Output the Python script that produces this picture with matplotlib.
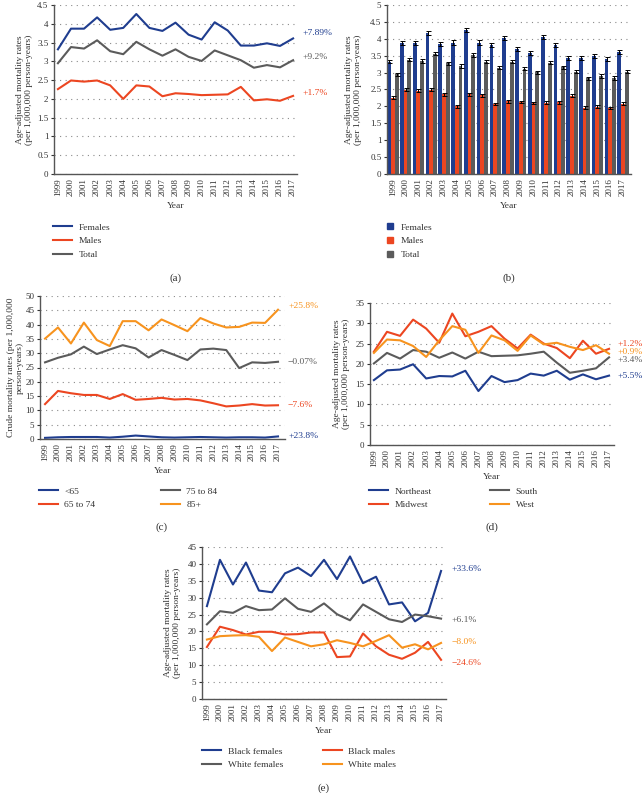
import numpy as np
import matplotlib
matplotlib.use("Agg")
import matplotlib.pyplot as plt
from matplotlib.lines import Line2D

plt.rcParams['font.family'] = ['Liberation Serif', 'DejaVu Serif']
plt.rcParams['font.size'] = 6.5

years = list(range(1999, 2018))

# (a)/(b) sex
females = [3.32, 3.87, 3.87, 4.17, 3.84, 3.89, 4.26, 3.89, 3.81, 4.03, 3.71, 3.58, 4.04, 3.82, 3.42, 3.42, 3.48, 3.41, 3.61]
males = [2.26, 2.49, 2.46, 2.49, 2.36, 2.00, 2.36, 2.33, 2.07, 2.15, 2.13, 2.10, 2.11, 2.12, 2.32, 1.96, 1.99, 1.95, 2.08]
total = [2.95, 3.38, 3.34, 3.56, 3.27, 3.19, 3.52, 3.32, 3.15, 3.32, 3.12, 3.01, 3.29, 3.16, 3.03, 2.83, 2.90, 2.84, 3.03]
females_err = [0.05, 0.06, 0.06, 0.06, 0.06, 0.06, 0.06, 0.06, 0.06, 0.06, 0.06, 0.06, 0.06, 0.06, 0.06, 0.06, 0.06, 0.06, 0.06]
males_err = [0.04, 0.04, 0.04, 0.04, 0.04, 0.04, 0.04, 0.04, 0.04, 0.04, 0.04, 0.04, 0.04, 0.04, 0.04, 0.04, 0.04, 0.04, 0.04]
total_err = [0.05, 0.05, 0.05, 0.05, 0.05, 0.05, 0.05, 0.05, 0.05, 0.05, 0.05, 0.05, 0.05, 0.05, 0.05, 0.05, 0.05, 0.05, 0.05]
sex_change = ["+7.89%", "+1.7%", "+9.2%"]

# (c) age groups
age_lt65 = [0.4, 0.6, 0.7, 0.7, 0.7, 0.5, 0.8, 1.2, 0.9, 0.6, 0.5, 0.6, 0.7, 0.6, 0.5, 0.6, 0.6, 0.5, 0.9]
age_65_74 = [12.2, 16.8, 16.0, 15.4, 15.4, 14.0, 15.7, 13.7, 14.0, 14.4, 13.8, 14.0, 13.5, 12.5, 11.4, 11.7, 12.2, 11.7, 11.8]
age_75_84 = [26.8, 28.4, 29.6, 32.3, 29.7, 31.3, 32.8, 31.7, 28.5, 31.1, 29.4, 27.6, 31.3, 31.6, 31.1, 24.8, 26.8, 26.6, 27.0]
age_85p = [35.1, 39.0, 33.4, 40.7, 34.6, 32.5, 41.2, 41.2, 38.0, 41.8, 39.8, 37.7, 42.3, 40.4, 39.0, 39.2, 40.7, 40.6, 45.2]
age_change = ["+23.8%", "\u22127.6%", "\u22120.07%", "+25.8%"]

# (d) regions
northeast = [16.0, 18.4, 18.6, 19.9, 16.4, 17.0, 16.9, 18.3, 13.3, 17.0, 15.5, 16.0, 17.6, 17.1, 18.3, 16.1, 17.4, 16.2, 17.1]
midwest = [23.0, 27.9, 26.9, 30.9, 28.7, 25.2, 32.4, 26.8, 27.9, 29.3, 26.2, 23.8, 27.2, 25.0, 23.9, 21.4, 25.7, 22.5, 23.7]
south = [20.1, 22.7, 21.3, 23.4, 23.0, 21.5, 22.8, 21.3, 23.0, 21.9, 22.0, 22.1, 22.5, 23.0, 20.3, 17.8, 18.3, 18.9, 21.6]
west = [22.7, 26.0, 25.8, 24.4, 21.7, 25.8, 29.3, 28.4, 22.7, 27.0, 25.8, 23.2, 27.0, 24.8, 25.2, 24.2, 23.4, 24.6, 22.5]
region_change = ["+5.5%", "+1.2%", "+3.4%", "+0.9%"]

# (e) race and sex
black_f = [27.5, 41.2, 33.9, 40.4, 32.1, 31.6, 37.2, 38.9, 36.4, 41.2, 35.5, 42.2, 34.3, 36.2, 28.0, 28.6, 23.0, 25.5, 37.9]
white_f = [22.1, 26.0, 25.5, 27.5, 26.3, 26.5, 29.8, 26.7, 25.8, 28.3, 25.1, 23.3, 28.0, 25.8, 23.6, 22.8, 25.0, 24.5, 23.8]
black_m = [15.4, 21.4, 20.4, 19.1, 19.9, 19.9, 19.1, 19.2, 19.7, 19.7, 12.4, 12.6, 19.4, 15.6, 13.1, 11.9, 13.7, 16.9, 11.6]
white_m = [17.6, 18.6, 18.8, 18.9, 18.4, 14.2, 18.2, 16.9, 15.6, 16.2, 17.4, 16.6, 15.6, 17.2, 18.9, 15.2, 16.2, 14.7, 16.6]
race_change = ["+33.6%", "+6.1%", "\u221224.6%", "\u22128.0%"]

BLUE = '#1f3d8f'
RED = '#ec4621'
GREY = '#5b5b5b'
ORANGE = '#f7931e'
TXT = '#333333'
FS = 6.5

W, H = 642, 793
fig = plt.figure(figsize=(W / 100, H / 100), dpi=100)


def add_ax(l, t, r, b):
    return fig.add_axes([l / W, 1 - b / H, (r - l) / W, (b - t) / H])


def style(ax, ymax, ystep, xlim, ylabel, lab_right_px, ax_left_px, ax_w_px):
    ax.set_xlim(*xlim)
    ax.set_ylim(0, ymax)
    ax.set_yticks(np.arange(0, ymax + ystep / 2, ystep))
    ax.yaxis.set_major_formatter(plt.FuncFormatter(lambda v, p: f"{v:g}"))
    ax.set_xticks(years)
    ax.set_xticklabels([str(y) for y in years], rotation=90)
    ax.tick_params(axis='x', length=0, pad=3, labelsize=FS, colors=TXT)
    ax.tick_params(axis='y', length=2, pad=2, labelsize=FS, colors=TXT)
    for s in ['top', 'right']:
        ax.spines[s].set_visible(False)
    for s in ['left', 'bottom']:
        ax.spines[s].set_color('#555555')
        ax.spines[s].set_linewidth(1.0)
    ax.yaxis.grid(True, linestyle=(0, (1, 4)), color='#8a8a8a', lw=0.8)
    ax.set_axisbelow(True)
    ax.set_xlabel("Year", fontsize=FS + 0.3, color=TXT, labelpad=4)
    ax.set_ylabel(ylabel, fontsize=FS + 0.3, color=TXT, linespacing=1.1)
    ax.yaxis.set_label_coords((lab_right_px - ax_left_px) / ax_w_px, 0.5)


def legend(handles, labels, x_px, y_px):
    fig.legend(handles, labels, loc='upper left',
               bbox_to_anchor=(x_px / W, 1 - y_px / H), frameon=False,
               borderpad=0, borderaxespad=0, handlelength=2.0,
               handletextpad=0.7, labelspacing=0.55, fontsize=FS + 0.3,
               labelcolor=TXT)


def tag(ax, lines, labels, colors, dys, dx=9):
    for ln, lab, c, dy in zip(lines, labels, colors, dys):
        ax.annotate(lab, xy=(years[-1], ln[-1]), xytext=(dx, dy),
                    textcoords='offset pixels', color=c, fontsize=FS + 0.3,
                    va='center', ha='left', annotation_clip=False)


lw = 1.5
ylab_age = "Age-adjusted mortality rates\n(per 1,000,000 person-years)"

# (a)
ax = add_ax(54, 5, 297, 174)
la = ax.plot(years, females, color=BLUE, lw=lw)[0]
lm = ax.plot(years, males, color=RED, lw=lw)[0]
lt = ax.plot(years, total, color=GREY, lw=lw)[0]
style(ax, 4.5, 0.5, (1998.7, 2017.3), ylab_age, 33, 54, 243)
tag(ax, [females, males, total], sex_change, [BLUE, RED, GREY], [5, 3, 3])
legend([la, lm, lt], ["Females", "Males", "Total"], 53, 223)
fig.text(175.5 / W, 1 - 278 / H, "(a)", ha='center', va='center', fontsize=8, color=TXT)

# (b)
ax = add_ax(387, 5, 631, 174)
x = np.array(years, dtype=float)
bw = 0.3
ek = dict(ecolor='black', elinewidth=0.7, capsize=1.8, capthick=0.7)
ax.bar(x - 0.28, females, bw, color=BLUE, yerr=females_err, error_kw=ek)
ax.bar(x, males, bw, color=RED, yerr=males_err, error_kw=ek)
ax.bar(x + 0.3, total, bw, color=GREY, yerr=total_err, error_kw=ek)
style(ax, 5, 0.5, (1998.55, 2017.63), ylab_age, 362, 387, 244)
sq = [Line2D([], [], ls='none', marker='s', ms=4, color=c) for c in (BLUE, RED, GREY)]
fig.legend(sq, ["Females", "Males", "Total"], loc='upper left',
           bbox_to_anchor=(386 / W, 1 - 223 / H), frameon=False, borderpad=0,
           borderaxespad=0, handlelength=0.8, handletextpad=0.8,
           labelspacing=0.55, fontsize=FS + 0.3, labelcolor=TXT)
fig.text(509 / W, 1 - 278 / H, "(b)", ha='center', va='center', fontsize=8, color=TXT)

# (c)
ax = add_ax(40, 296, 285, 439)
l1 = ax.plot(years, age_lt65, color=BLUE, lw=lw)[0]
l2 = ax.plot(years, age_65_74, color=RED, lw=lw)[0]
l3 = ax.plot(years, age_75_84, color=GREY, lw=lw)[0]
l4 = ax.plot(years, age_85p, color=ORANGE, lw=lw)[0]
style(ax, 50, 5, (1998.61, 2017.54),
      "Crude mortality rates (per 1,000,000\nperson-years)", 24, 40, 245)
tag(ax, [age_lt65, age_65_74, age_75_84, age_85p], age_change,
    [BLUE, RED, GREY, ORANGE], [0, 0, 0, 4], dx=10)
legend([l1, l2], ["<65", "65 to 74"], 39, 487)
legend([l3, l4], ["75 to 84", "85+"], 161, 487)
fig.text(162 / W, 1 - 527 / H, "(c)", ha='center', va='center', fontsize=8, color=TXT)

# (d)
ax = add_ax(370, 303, 614, 445)
r1 = ax.plot(years, northeast, color=BLUE, lw=lw)[0]
r2 = ax.plot(years, midwest, color=RED, lw=lw)[0]
r3 = ax.plot(years, south, color=GREY, lw=lw)[0]
r4 = ax.plot(years, west, color=ORANGE, lw=lw)[0]
style(ax, 35, 5, (1998.7, 2017.38), ylab_age, 350, 370, 244)
tag(ax, [northeast, midwest, south, west], region_change,
    [BLUE, RED, GREY, ORANGE], [0, 5, -3, 2], dx=8)
legend([r1, r2], ["Northeast", "Midwest"], 369, 487)
legend([r3, r4], ["South", "West"], 490, 487)
fig.text(492 / W, 1 - 527 / H, "(d)", ha='center', va='center', fontsize=8, color=TXT)

# (e)
ax = add_ax(202, 547, 446, 699)
e1 = ax.plot(years, black_f, color=BLUE, lw=lw)[0]
e2 = ax.plot(years, white_f, color=GREY, lw=lw)[0]
e3 = ax.plot(years, black_m, color=RED, lw=lw)[0]
e4 = ax.plot(years, white_m, color=ORANGE, lw=lw)[0]
style(ax, 45, 5, (1998.62, 2017.38), ylab_age, 181, 202, 244)
tag(ax, [black_f, white_f, black_m, white_m], race_change,
    [BLUE, GREY, RED, ORANGE], [2, -1, -3, 1], dx=10)
legend([e1, e2], ["Black females", "White females"], 202, 747)
legend([e3, e4], ["Black males", "White males"], 323, 747)
fig.text(324 / W, 1 - 788 / H, "(e)", ha='center', va='center', fontsize=8, color=TXT)

fig.savefig("out.png", dpi=100)
